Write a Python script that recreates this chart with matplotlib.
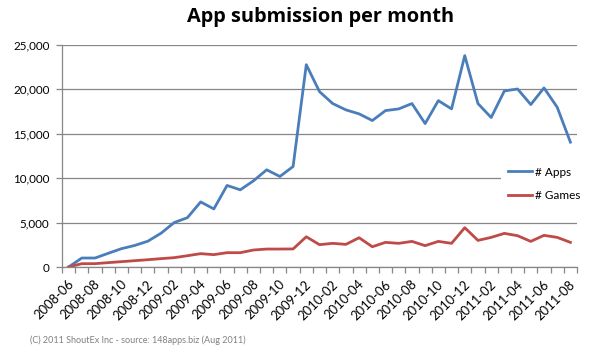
import matplotlib
matplotlib.use("Agg")
import matplotlib.pyplot as plt
import matplotlib.transforms as mtransforms
from matplotlib.ticker import FuncFormatter, FixedLocator

months = ["2008-06", "2008-07", "2008-08", "2008-09", "2008-10", "2008-11", "2008-12",
          "2009-01", "2009-02", "2009-03", "2009-04", "2009-05", "2009-06", "2009-07",
          "2009-08", "2009-09", "2009-10", "2009-11", "2009-12", "2010-01", "2010-02",
          "2010-03", "2010-04", "2010-05", "2010-06", "2010-07", "2010-08", "2010-09",
          "2010-10", "2010-11", "2010-12", "2011-01", "2011-02", "2011-03", "2011-04",
          "2011-05", "2011-06", "2011-07", "2011-08"]

apps = [0, 1010, 1010, 1540, 2060, 2420, 2900, 3800, 5000, 5550, 7320, 6530, 9170, 8680,
        9690, 10930, 10180, 11300, 22750, 19720, 18380, 17670, 17220, 16470, 17590,
        17780, 18380, 16130, 18710, 17780, 23770, 18380, 16810, 19800, 20020, 18270,
        20140, 17970, 14040]

games = [0, 375, 375, 490, 600, 710, 820, 940, 1050, 1270, 1500, 1390, 1610, 1610,
         1910, 2020, 2020, 2030, 3400, 2510, 2660, 2545, 3290, 2280, 2770, 2660, 2880,
         2400, 2880, 2660, 4420, 2990, 3330, 3780, 3520, 2880, 3560, 3330, 2770]

series_names = ["# Apps", "# Games"]
title = "App submission per month"
footer = "(C) 2011 ShoutEx Inc - source: 148apps.biz (Aug 2011)"

plt.rcParams['font.family'] = ['Lato', 'DejaVu Sans']

fig = plt.figure(figsize=(5.9, 3.54), dpi=100)
W, H = 590, 354
left, right, top, bottom = 62, 577, 44.7, 267
ax = fig.add_axes([left / W, 1 - bottom / H, (right - left) / W, (bottom - top) / H])

x = list(range(len(months)))
ax.plot(x, apps, color="#4A7EBB", lw=2.0, label=series_names[0], solid_joinstyle="round")
ax.plot(x, games, color="#BE4B48", lw=2.0, label=series_names[1], solid_joinstyle="round")

ax.set_xlim(-0.5, len(months) - 0.5)
ax.set_ylim(0, 25000)
ax.set_yticks(range(0, 25001, 5000))
ax.yaxis.set_major_formatter(FuncFormatter(lambda v, p: f"{int(v):,}"))
ax.grid(axis="y", color="#868686", lw=0.9)
ax.set_axisbelow(True)

# x ticks: marks at category boundaries, labels every 2 categories
ax.xaxis.set_major_locator(FixedLocator([i - 0.5 for i in range(len(months) + 1)]))
ax.xaxis.set_major_formatter(FuncFormatter(lambda v, p: ""))
lab_pos = list(range(0, len(months), 2))
ax.xaxis.set_minor_locator(FixedLocator(lab_pos))
ax.set_xticklabels([months[i] for i in lab_pos], minor=True)
ax.tick_params(axis="x", which="major", length=4, color="#868686", width=0.9, direction="out")
ax.tick_params(axis="x", which="minor", length=0, pad=11, labelsize=9.4)
ax.tick_params(axis="y", length=4, color="#868686", width=0.9, labelsize=8.4, pad=5)
shift = mtransforms.ScaledTranslation(3 / 100, 0, fig.dpi_scale_trans)
for lbl in ax.get_xticklabels(minor=True):
    lbl.set_rotation(45)
    lbl.set_ha("right")
    lbl.set_rotation_mode("anchor")
    lbl.set_va("center")
    lbl.set_transform(lbl.get_transform() + shift)

for s in ["top", "right"]:
    ax.spines[s].set_visible(False)
for s in ["left", "bottom"]:
    ax.spines[s].set_color("#868686")
    ax.spines[s].set_linewidth(0.9)

leg = ax.legend(loc="center left", bbox_to_anchor=(501 / W, 1 - 184 / H),
                bbox_transform=fig.transFigure, frameon=True, fontsize=8.5,
                handlelength=2.0, handletextpad=0.25, labelspacing=1.1,
                borderaxespad=0, borderpad=0.6)
leg.get_frame().set_facecolor("white")
leg.get_frame().set_edgecolor("none")
leg.get_frame().set_alpha(1)
leg.get_frame().set_boxstyle("square", pad=0)

fig.text(321 / W, 1 - 22 / H, title, ha="center", va="baseline", fontsize=14.4,
         fontweight="bold", family=["Open Sans", "DejaVu Sans"])
fig.text(30 / W, 1 - 340 / H, footer, ha="left", va="center", fontsize=6.5, color="#808080")

fig.savefig("out.png", dpi=100)
